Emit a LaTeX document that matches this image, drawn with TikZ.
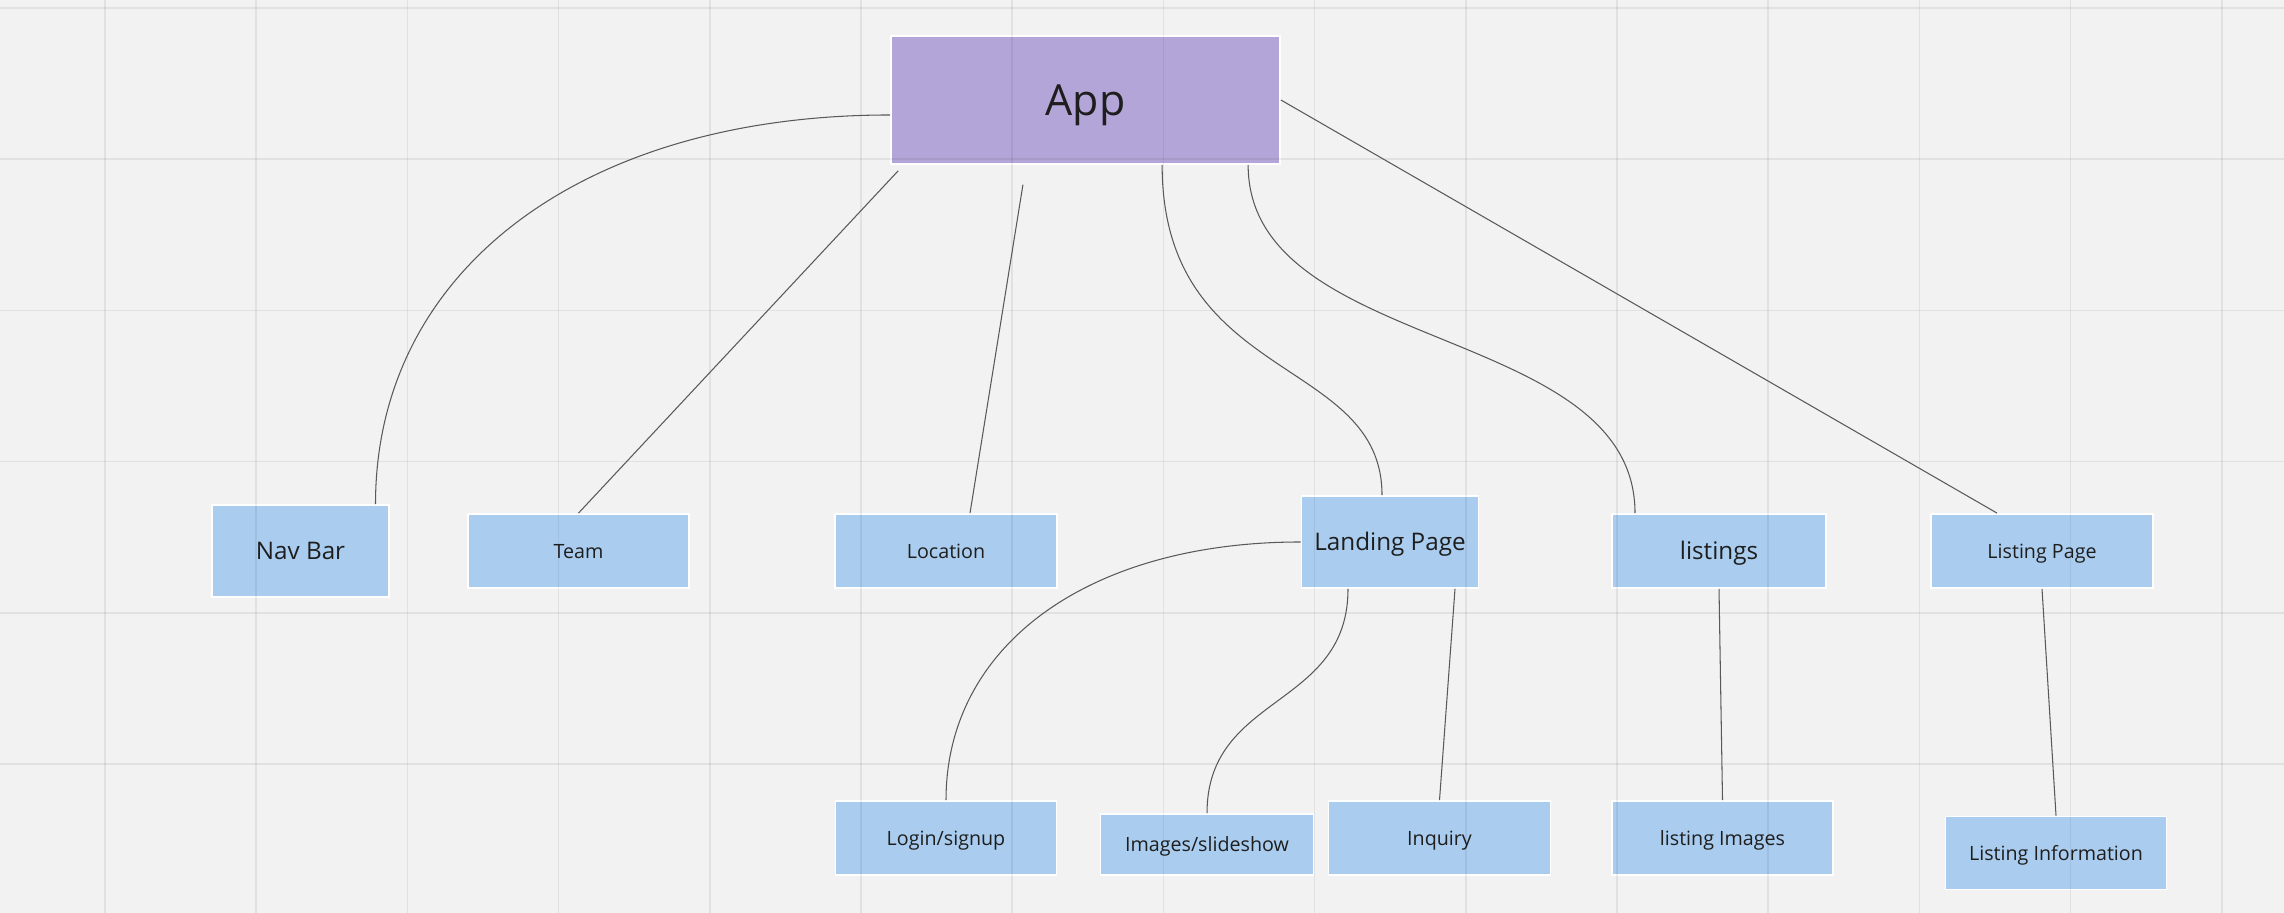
\documentclass[tikz,border=0pt]{standalone}
\usepackage{fontspec}
\setmainfont{Open Sans}
\usepackage{xcolor}
\definecolor{appfill}{HTML}{B4A5D8}
\definecolor{boxfill}{HTML}{AACDEF}
\definecolor{canvas}{HTML}{F2F2F2}
\definecolor{txt}{HTML}{1E1E1E}

\begin{document}
\begin{tikzpicture}
      \tikzstyle{box}=[rectangle,fill=boxfill,draw=white,line width=0.5pt,inner sep=0pt,text=txt,text height=4pt,text depth=0pt,font=\fontsize{5.6}{6.7}\selectfont]
      \tikzstyle{bigbox}=[box,text height=4.9pt,font=\fontsize{6.9}{8.3}\selectfont]
      \tikzstyle{edge}=[line width=0.3pt,black!65]
      \tikzstyle{gridline}=[line width=0.45pt,black,opacity=0.065]
      \fill[canvas] (0,0) rectangle (22.84,9.13);
      \useasboundingbox (0,0) rectangle (22.84,9.13);
      % top
      \node[box,fill=appfill,minimum width=3.89cm,minimum height=1.28cm,text height=8.7pt,font=\fontsize{12.2}{14.6}\selectfont] (app) at (10.855,8.13) {App};
      % second row
      \node[bigbox,minimum width=1.77cm,minimum height=0.92cm] (nav) at (3.005,3.62) {Nav Bar};
      \node[box,minimum width=2.21cm,minimum height=0.74cm] (team) at (5.785,3.62) {Team};
      \node[box,minimum width=2.22cm,minimum height=0.74cm] (loc) at (9.46,3.62) {Location};
      \node[bigbox,minimum width=1.77cm,minimum height=0.92cm] (land) at (13.90,3.71) {Landing Page};
      \node[bigbox,minimum width=2.14cm,minimum height=0.74cm] (lists) at (17.19,3.62) {listings};
      \node[box,minimum width=2.22cm,minimum height=0.74cm] (lpage) at (20.42,3.62) {Listing Page};
      % third row
      \node[box,minimum width=2.21cm,minimum height=0.74cm] (login) at (9.46,0.75) {Login/signup};
      \node[box,minimum width=2.13cm,minimum height=0.61cm] (slides) at (12.07,0.685) {Images/slideshow};
      \node[box,minimum width=2.22cm,minimum height=0.74cm] (inq) at (14.395,0.75) {Inquiry};
      \node[box,minimum width=2.21cm,minimum height=0.74cm] (limg) at (17.225,0.75) {listing Images};
      \node[box,minimum width=2.21cm,minimum height=0.73cm] (linfo) at (20.56,0.60) {Listing Information};
      % board grid
      \foreach \x in {0,...,14} \draw[gridline] (1.05+1.512*\x,0) -- (1.05+1.512*\x,9.13);
      \foreach \y in {0,...,5} \draw[gridline] (0,9.05-1.512*\y) -- (22.84,9.05-1.512*\y);
      % links
      \draw[edge] ([yshift=-0.15cm]app.west) to [out=180,in=90,out distance=3.09cm,in distance=2.33cm] ([xshift=0.75cm]nav.north);
      \draw[edge] ([xshift=0.08cm,yshift=-0.06cm]app.south west) -- (team.north);
      \draw[edge,shorten <=0.2cm] ([xshift=1.36cm]app.south west) -- ([xshift=0.24cm]loc.north);
      \draw[edge] ([xshift=2.72cm]app.south west) to [out=-90,in=90,out distance=2.2cm,in distance=1.4cm] ([xshift=-0.08cm]land.north);
      \draw[edge] ([xshift=3.58cm]app.south west) to [out=-90,in=90,out distance=1.9cm,in distance=1.9cm] ([xshift=-0.84cm]lists.north);
      \draw[edge] (app.east) -- ([xshift=-0.45cm]lpage.north);
      \draw[edge] (land.west) to [out=180,in=90,out distance=2.12cm,in distance=1.55cm] (login.north);
      \draw[edge] ([xshift=-0.42cm]land.south) to [out=-90,in=90,out distance=1.2cm,in distance=1.2cm] (slides.north);
      \draw[edge] ([xshift=0.65cm]land.south) -- (inq.north);
      \draw[edge] (lists.south) -- (limg.north);
      \draw[edge] (lpage.south) -- (linfo.north);
    \end{tikzpicture}
\end{document}
